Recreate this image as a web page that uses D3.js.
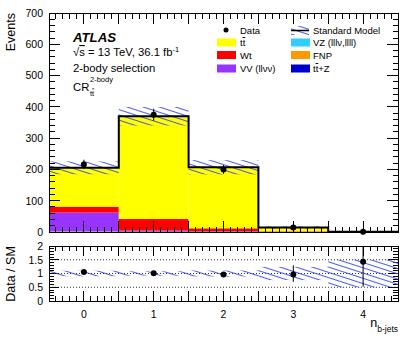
<!DOCTYPE html>
<html><head><meta charset="utf-8">
<script src="https://cdn.jsdelivr.net/npm/d3@7"></script>
<style>body{margin:0;background:#fff}svg{display:block}text{font-family:"Liberation Sans",Arial,Helvetica,sans-serif}.ov{text-decoration:overline}</style>
</head><body>
<svg id="c" width="415" height="342"></svg>
<script>
// ---- data ----
const bins = [0, 1, 2, 3, 4];
const ttbar = [124, 328.5, 195.2, 12.3, 0.5];
const wt    = [19, 37, 9, 1.5, 0.1];
const vv    = [60, 3, 1.5, 0.2, 0];
const vz    = [0.3, 0.2, 0.1, 0, 0];
const ttz   = [0.2, 1, 1, 0.4, 0.1];
const fnp   = [1.5, 0.3, 0.2, 0.1, 0];
const data    = [216, 375, 200, 14, 1];
const dataErr = [15, 19, 14, 3.7, 1];
const smRelUnc = [0.10, 0.08, 0.11, 0.24, 0.5];
const ratioErrLo = [0.07, 0.05, 0.07, 0.27, 0.91];
const ratioErrHi = [0.07, 0.05, 0.07, 0.33, 1.2];
const yTicksMain = [0, 100, 200, 300, 400, 500, 600, 700];
const yTicksRatio = [0, 0.5, 1, 1.5, 2];
const yTickLabelsRatio = ["0", "0.5", "1", "1.5", "2"];

const stackOrder = [
  {name: "FNP", vals: fnp, color: "#ff9900"},
  {name: "ttZ", vals: ttz, color: "#0000cc"},
  {name: "VZ", vals: vz, color: "#33ccff"},
  {name: "VV", vals: vv, color: "#9933ff"},
  {name: "Wt", vals: wt, color: "#ff0000"},
  {name: "tt", vals: ttbar, color: "#ffff00"}
];
const sm = bins.map((b, i) => stackOrder.reduce((s, c) => s + c.vals[i], 0));

const svg = d3.select("#c");
const X0 = 49, X1 = 398;
const x = d3.scaleLinear().domain([-0.5, 4.5]).range([X0, X1]);
const y = d3.scaleLinear().domain([0, 700]).range([232, 13]);
const yr = d3.scaleLinear().domain([0, 2]).range([301, 246]);

// hatch pattern
const defs = svg.append("defs");
const pat = defs.append("pattern").attr("id", "hatch").attr("patternUnits", "userSpaceOnUse")
  .attr("width", 10).attr("height", 5).attr("patternTransform", "rotate(18)");
pat.append("line").attr("x1", 0).attr("x2", 10).attr("y1", 2.5).attr("y2", 2.5)
  .attr("stroke", "#3344ff").attr("stroke-width", 0.9);
defs.append("clipPath").attr("id", "cm").append("rect").attr("x", X0).attr("y", 13).attr("width", X1 - X0).attr("height", 219);
defs.append("clipPath").attr("id", "cr").append("rect").attr("x", X0).attr("y", 246).attr("width", X1 - X0).attr("height", 55);

// ---- main panel: stacks ----
const gm = svg.append("g").attr("clip-path", "url(#cm)");
const stackData = bins.map((b, i) => {
  let acc = 0; return stackOrder.map(c => { const y0 = acc; acc += c.vals[i]; return {b, y0, y1: acc, color: c.color}; });
}).flat();
gm.selectAll("rect.stk").data(stackData).join("rect")
  .attr("x", d => x(d.b - 0.5)).attr("width", d => x(d.b + 0.5) - x(d.b - 0.5))
  .attr("y", d => y(d.y1)).attr("height", d => Math.max(0, y(d.y0) - y(d.y1)))
  .attr("fill", d => d.color);
// uncertainty band
gm.selectAll("rect.band").data(bins).join("rect")
  .attr("x", b => x(b - 0.5)).attr("width", b => x(b + 0.5) - x(b - 0.5))
  .attr("y", (b, i) => y(sm[i] * (1 + smRelUnc[i])))
  .attr("height", (b, i) => y(sm[i] * (1 - smRelUnc[i])) - y(sm[i] * (1 + smRelUnc[i])))
  .attr("fill", "url(#hatch)");
// total outline
const stepPts = [];
bins.forEach((b, i) => { stepPts.push([x(b - 0.5), y(sm[i])]); stepPts.push([x(b + 0.5), y(sm[i])]); });
stepPts.push([x(4.5), y(0)]);
stepPts.unshift([x(-0.5), y(0)]);
gm.append("path").attr("d", d3.line()(stepPts)).attr("fill", "none").attr("stroke", "#000").attr("stroke-width", 2);

// ---- axes helpers ----
function ticksX(g, yBase, dir, major) {
  const minors = d3.range(-0.5, 4.5001, 0.1);
  minors.forEach(v => {
    const isMaj = Math.abs(v * 2 - Math.round(v * 2)) < 1e-6;
    const len = isMaj ? major : major * 0.5;
    g.append("line").attr("x1", x(v)).attr("x2", x(v)).attr("y1", yBase).attr("y2", yBase + dir * len)
      .attr("stroke", "#000").attr("stroke-width", 1);
  });
}
function ticksY(g, scale, xBase, dir, majors, minorStep, lo, hi, major) {
  d3.range(lo, hi + 1e-6, minorStep).forEach(v => {
    const isMaj = majors.some(m => Math.abs(m - v) < 1e-6);
    const len = isMaj ? major : major * 0.5;
    g.append("line").attr("x1", xBase).attr("x2", xBase + dir * len).attr("y1", scale(v)).attr("y2", scale(v))
      .attr("stroke", "#000").attr("stroke-width", 1);
  });
}
const ax = svg.append("g").attr("shape-rendering", "crispEdges");
// main frame
ax.append("rect").attr("x", X0).attr("y", 13).attr("width", X1 - X0).attr("height", 219).attr("fill", "none").attr("stroke", "#000");
ticksX(ax, 232, -1, 11); ticksX(ax, 13, 1, 11);
ticksY(ax, y, X0, 1, yTicksMain, 20, 0, 700, 11);
ticksY(ax, y, X1, -1, yTicksMain, 20, 0, 700, 11);
ax.selectAll("text.ym").data(yTicksMain).join("text").attr("x", 43).attr("y", d => y(d) + 3.8)
  .attr("text-anchor", "end").attr("font-size", 10.5).text(d => d);

// data points main
const dg = svg.append("g");
dg.selectAll("line.err").data(bins).join("line")
  .attr("x1", b => x(b)).attr("x2", b => x(b))
  .attr("y1", (b, i) => y(data[i] + dataErr[i])).attr("y2", (b, i) => y(Math.max(0, data[i] - dataErr[i])))
  .attr("stroke", "#000").attr("stroke-width", 1);
dg.selectAll("circle").data(bins).join("circle").attr("cx", b => x(b)).attr("cy", (b, i) => y(data[i])).attr("r", 3).attr("fill", "#000");

svg.append("text").attr("transform", "translate(15,13) rotate(-90)").attr("text-anchor", "end")
  .attr("font-size", 12.5).text("Events");

// labels in main panel
svg.append("text").attr("x", 73).attr("y", 41.5).attr("font-size", 13.2).attr("font-weight", "bold").attr("font-style", "italic").text("ATLAS");
const t2 = svg.append("text").attr("x", 73).attr("y", 56).attr("font-size", 11.3);
t2.append("tspan").text("√");
t2.append("tspan").attr("class", "ov").text("s");
t2.append("tspan").text(" = 13 TeV, 36.1 fb");
t2.append("tspan").attr("dy", -4.5).attr("font-size", 7.5).text("-1");
svg.append("text").attr("x", 73).attr("y", 72).attr("font-size", 11.3).text("2-body selection");
svg.append("text").attr("x", 73).attr("y", 90.5).attr("font-size", 11.3).text("CR");
svg.append("text").attr("x", 90).attr("y", 82).attr("font-size", 7.5).text("2-body");
const sub = svg.append("text").attr("x", 90).attr("y", 95.5).attr("font-size", 7.5);
sub.append("tspan").text("t"); sub.append("tspan").attr("class", "ov").text("t");

// legend
const lg = svg.append("g").attr("font-size", 9.5);
lg.append("circle").attr("cx", 226).attr("cy", 30).attr("r", 2.5).attr("fill", "#000");
lg.append("text").attr("x", 240).attr("y", 33.5).text("Data");
lg.append("rect").attr("x", 291).attr("y", 26).attr("width", 18).attr("height", 9).attr("fill", "url(#hatch)");
lg.append("line").attr("x1", 291).attr("x2", 309).attr("y1", 30.5).attr("y2", 30.5).attr("stroke", "#000").attr("stroke-width", 1.5);
lg.append("text").attr("x", 313).attr("y", 33.5).text("Standard Model");
const legendItems = [
  {col: 0, row: 1, color: "#ffff00", label: ["t", "t", ""]},
  {col: 1, row: 1, color: "#33ccff", label: ["VZ (lllν,llll)"]},
  {col: 0, row: 2, color: "#ff0000", label: ["Wt"]},
  {col: 1, row: 2, color: "#ff9900", label: ["FNP"]},
  {col: 0, row: 3, color: "#9933ff", label: ["VV (llνν)"]},
  {col: 1, row: 3, color: "#0000cc", label: ["t", "t", "+Z"]}
];
const rowY = [30, 42.5, 55, 68.5];
legendItems.forEach(it => {
  const bx = it.col ? 291 : 217;
  lg.append("rect").attr("x", bx).attr("y", rowY[it.row] - 4).attr("width", 19).attr("height", 8).attr("fill", it.color);
  const t = lg.append("text").attr("x", bx + (it.col ? 22 : 23)).attr("y", rowY[it.row] + 3.5);
  if (it.label.length === 3) {
    t.append("tspan").text(it.label[0]);
    t.append("tspan").attr("class", "ov").text(it.label[1]);
    t.append("tspan").text(it.label[2]);
  } else t.text(it.label[0]);
});

// ---- ratio panel ----
const gr = svg.append("g").attr("clip-path", "url(#cr)");
[0.5, 1, 1.5].forEach(v => gr.append("line").attr("x1", X0).attr("x2", X1).attr("y1", yr(v)).attr("y2", yr(v))
  .attr("stroke", "#000").attr("stroke-width", 0.8).attr("stroke-dasharray", "1,2"));
gr.selectAll("rect.rb").data(bins).join("rect")
  .attr("x", b => x(b - 0.5)).attr("width", b => x(b + 0.5) - x(b - 0.5))
  .attr("y", (b, i) => yr(1 + smRelUnc[i])).attr("height", (b, i) => yr(1 - smRelUnc[i]) - yr(1 + smRelUnc[i]))
  .attr("fill", "url(#hatch)");
const ratio = bins.map((b, i) => data[i] / sm[i]);
gr.selectAll("line.re").data(bins).join("line")
  .attr("x1", b => x(b)).attr("x2", b => x(b))
  .attr("y1", (b, i) => yr(ratio[i] + ratioErrHi[i])).attr("y2", (b, i) => yr(ratio[i] - ratioErrLo[i]))
  .attr("stroke", "#000").attr("stroke-width", 1);
gr.selectAll("circle").data(bins).join("circle").attr("cx", b => x(b)).attr("cy", (b, i) => yr(ratio[i])).attr("r", 3).attr("fill", "#000");

ax.append("rect").attr("x", X0).attr("y", 246).attr("width", X1 - X0).attr("height", 55).attr("fill", "none").attr("stroke", "#000");
ticksX(ax, 301, -1, 10); ticksX(ax, 246, 1, 10);
ticksY(ax, yr, X0, 1, yTicksRatio, 0.1, 0, 2, 10);
ticksY(ax, yr, X1, -1, yTicksRatio, 0.1, 0, 2, 10);
ax.selectAll("text.yr").data(yTicksRatio).join("text").attr("x", 43).attr("y", d => yr(d) + 3.8)
  .attr("text-anchor", "end").attr("font-size", 10.5).text((d, i) => yTickLabelsRatio[i]);
ax.selectAll("text.xr").data(bins).join("text").attr("x", b => x(b)).attr("y", 317.5)
  .attr("text-anchor", "middle").attr("font-size", 10.5).text(b => b);

svg.append("text").attr("transform", "translate(15,274) rotate(-90)").attr("text-anchor", "middle")
  .attr("font-size", 12.5).text("Data / SM");
const xl = svg.append("text").attr("x", 398).attr("y", 327).attr("text-anchor", "end").attr("font-size", 12.5);
xl.append("tspan").text("n");
xl.append("tspan").attr("dy", 4.5).attr("font-size", 8.5).text("b-jets");
</script>
</body></html>
